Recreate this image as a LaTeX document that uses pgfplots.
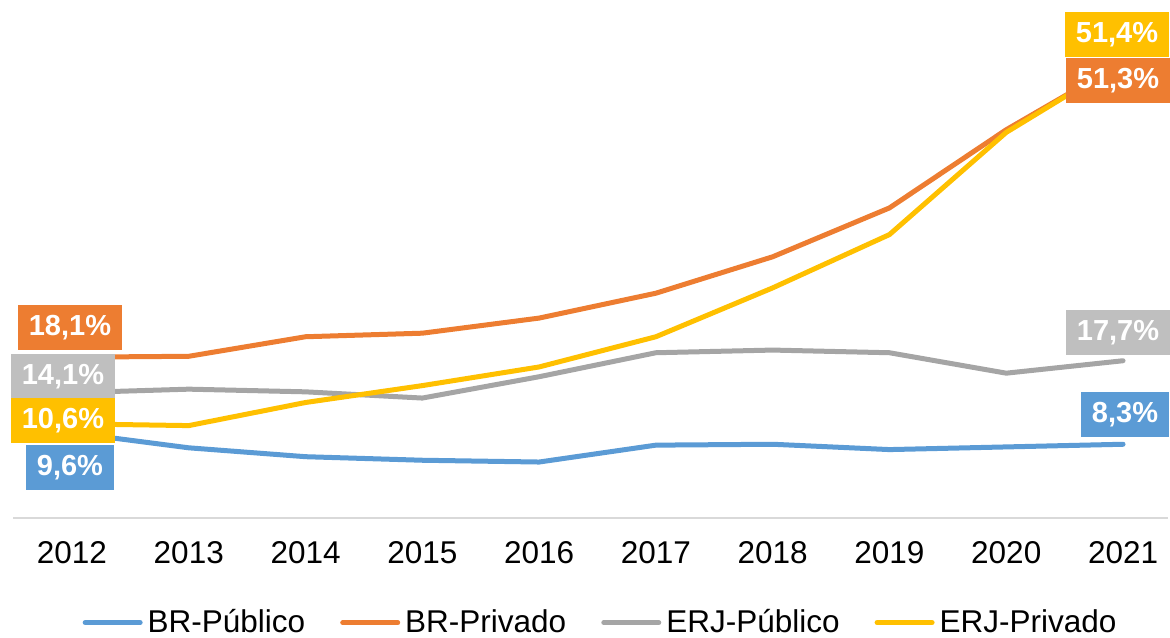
\documentclass[border=0pt]{standalone}
\usepackage{fontspec}
\setmainfont{Liberation Sans}
\usepackage{pgfplots}
\pgfplotsset{compat=1.18}
\definecolor{cBlue}{HTML}{5B9BD5}
\definecolor{cOrange}{HTML}{ED7D31}
\definecolor{cGray}{HTML}{A5A5A5}
\definecolor{cGrayBox}{HTML}{BFBFBF}
\definecolor{cYellow}{HTML}{FFC000}
\definecolor{cAxis}{HTML}{D9D9D9}
\tikzset{lbl/.style={text=white, font=\fontsize{11.6}{13}\selectfont\bfseries, inner xsep=4.4pt, inner ysep=0pt, minimum height=18pt, anchor=center}}
\begin{document}
\begin{tikzpicture}
\useasboundingbox (-5.2pt,-47.6pt) rectangle (462.8pt,207.2pt);
\begin{axis}[
  scale only axis, width=462pt, height=207.2pt,
  xmin=-0.505, xmax=9.385, ymin=0, ymax=58.3,
  axis y line=none, axis x line*=bottom,
  x axis line style={draw=cAxis, line width=0.8pt, -},
  xtick={0,1,2,3,4,5,6,7,8,9},
  xticklabels={2012,2013,2014,2015,2016,2017,2018,2019,2020,2021},
  major tick length=0pt,
  xticklabel style={font=\fontsize{12.6}{15}\selectfont, yshift=-6pt},
  clip=false,
  legend columns=4,
  legend style={at={(0.51,-0.202)}, anchor=center, draw=none, fill=none,
    font=\fontsize{12.6}{15}\selectfont,
    nodes={inner xsep=2pt},
    /tikz/every even column/.append style={column sep=12pt}},
  legend image code/.code={\draw[#1] (0pt,0pt) -- (22pt,0pt);},
  every axis plot/.append style={line width=2pt, line join=round, line cap=round, mark=none},
]
\addplot[cBlue] coordinates {(0,9.6) (1,7.9) (2,6.9) (3,6.5) (4,6.3) (5,8.2) (6,8.3) (7,7.7) (8,8.0) (9,8.3)};
\addlegendentry{BR-Público}
\addplot[cOrange] coordinates {(0,18.1) (1,18.2) (2,20.4) (3,20.8) (4,22.5) (5,25.3) (6,29.4) (7,34.9) (8,43.7) (9,51.3)};
\addlegendentry{BR-Privado}
\addplot[cGray] coordinates {(0,14.1) (1,14.5) (2,14.2) (3,13.5) (4,15.9) (5,18.6) (6,18.9) (7,18.6) (8,16.3) (9,17.7)};
\addlegendentry{ERJ-Público}
\addplot[cYellow] coordinates {(0,10.6) (1,10.4) (2,13.0) (3,14.9) (4,17.0) (5,20.4) (6,25.9) (7,31.9) (8,43.4) (9,51.4)};
\addlegendentry{ERJ-Privado}
% data labels
\addplot[draw=none, forget plot] coordinates {(0,18.1) (9,51.3)}
  node[pos=0, lbl, fill=cOrange, xshift=-0.8pt, yshift=12pt] {18,1\%}
  node[pos=1, lbl, fill=cOrange, xshift=-2pt, yshift=-7.2pt] {51,3\%};
\addplot[draw=none, forget plot] coordinates {(0,14.1) (9,17.7)}
  node[pos=0, lbl, fill=cGrayBox, xshift=-3.6pt, yshift=6.4pt] {14,1\%}
  node[pos=1, lbl, fill=cGrayBox, xshift=-2pt, yshift=11.2pt] {17,7\%};
\addplot[draw=none, forget plot] coordinates {(0,10.6) (9,51.4)}
  node[pos=0, lbl, fill=cYellow, xshift=-3.6pt, yshift=1.2pt] {10,6\%}
  node[pos=1, lbl, fill=cYellow, xshift=-2.4pt, yshift=10.8pt] {51,4\%};
\addplot[draw=none, forget plot] coordinates {(0,9.6) (9,8.3)}
  node[pos=0, lbl, fill=cBlue, xshift=-0.8pt, yshift=-14pt] {9,6\%}
  node[pos=1, lbl, fill=cBlue, xshift=0.8pt, yshift=11.8pt] {8,3\%};
\end{axis}
\end{tikzpicture}
\end{document}
